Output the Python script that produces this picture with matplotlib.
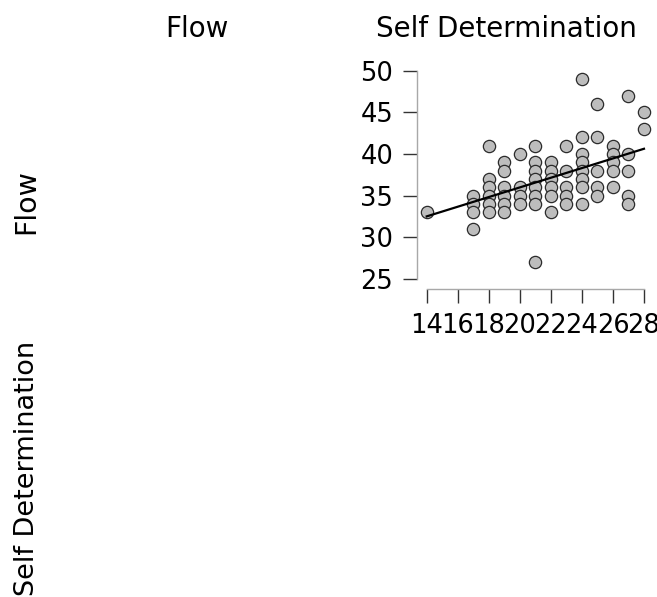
import numpy as np
import matplotlib
matplotlib.use("Agg")
import matplotlib.pyplot as plt

# Self Determination (x) vs Flow (y)
self_det = [14,
            17, 17, 17, 17,
            18, 18, 18, 18, 18, 18,
            19, 19, 19, 19, 19, 19,
            20, 20, 20, 20,
            21, 21, 21, 21, 21, 21, 21, 21,
            22, 22, 22, 22, 22, 22,
            23, 23, 23, 23, 23,
            24, 24, 24, 24, 24, 24, 24, 24,
            25, 25, 25, 25, 25,
            26, 26, 26, 26, 26,
            27, 27, 27, 27, 27,
            28, 28]
flow = [33,
        35, 34, 33, 31,
        41, 37, 36, 35, 34, 33,
        39, 38, 36, 35, 34, 33,
        40, 36, 35, 34,
        41, 39, 38, 37, 36, 35, 34, 27,
        39, 38, 37, 36, 35, 33,
        41, 38, 36, 35, 34,
        49, 42, 40, 39, 38, 37, 36, 34,
        46, 42, 38, 36, 35,
        41, 40, 39, 38, 36,
        47, 40, 38, 35, 34,
        45, 43]

variables = ["Flow", "Self Determination"]
x_ticks = [14, 16, 18, 20, 22, 24, 26, 28]
y_ticks = [25, 30, 35, 40, 45, 50]

W, H = 657, 597
fig = plt.figure(figsize=(W / 100, H / 100), dpi=100)

# column headers and row labels
fig.text(197 / W, 1 - 29 / H, variables[0], fontsize=20, ha="center", va="center")
fig.text(506 / W, 1 - 29 / H, variables[1], fontsize=20, ha="center", va="center")
fig.text(26 / W, 1 - 202 / H, variables[0], fontsize=20.5, ha="center", va="center", rotation=90)
fig.text(27 / W, 1 - 468 / H, variables[1], fontsize=19.5, ha="center", va="center", rotation=90)

ax = fig.add_axes([416.8 / W, (H - 289) / H, (656.4 - 416.8) / W, (289 - 65.7) / H])
x = np.array(self_det)
y = np.array(flow)
ax.scatter(x, y, s=78, facecolor="#bdbdbd", edgecolor="#2b2b2b", linewidth=0.9, zorder=2, clip_on=False)

slope, icpt = np.polyfit(x, y, 1)
xl = np.array([x.min(), x.max()])
ax.plot(xl, icpt + slope * xl, color="black", linewidth=1.6, zorder=3)

ax.set_xlim(13.36, 28.8)
ax.set_ylim(23.8, 50.6)
ax.set_xticks(x_ticks)
ax.set_yticks(y_ticks)

for side in ["top", "right"]:
    ax.spines[side].set_visible(False)
ax.spines["left"].set_bounds(25, 50)
ax.spines["bottom"].set_bounds(14, 28)
for side in ["left", "bottom"]:
    ax.spines[side].set_color("#a8a8a8")
    ax.spines[side].set_linewidth(1)
ax.tick_params(axis="both", length=10, width=1, color="#333333", labelsize=18.5, pad=7)

fig.savefig("out.png", dpi=100)
